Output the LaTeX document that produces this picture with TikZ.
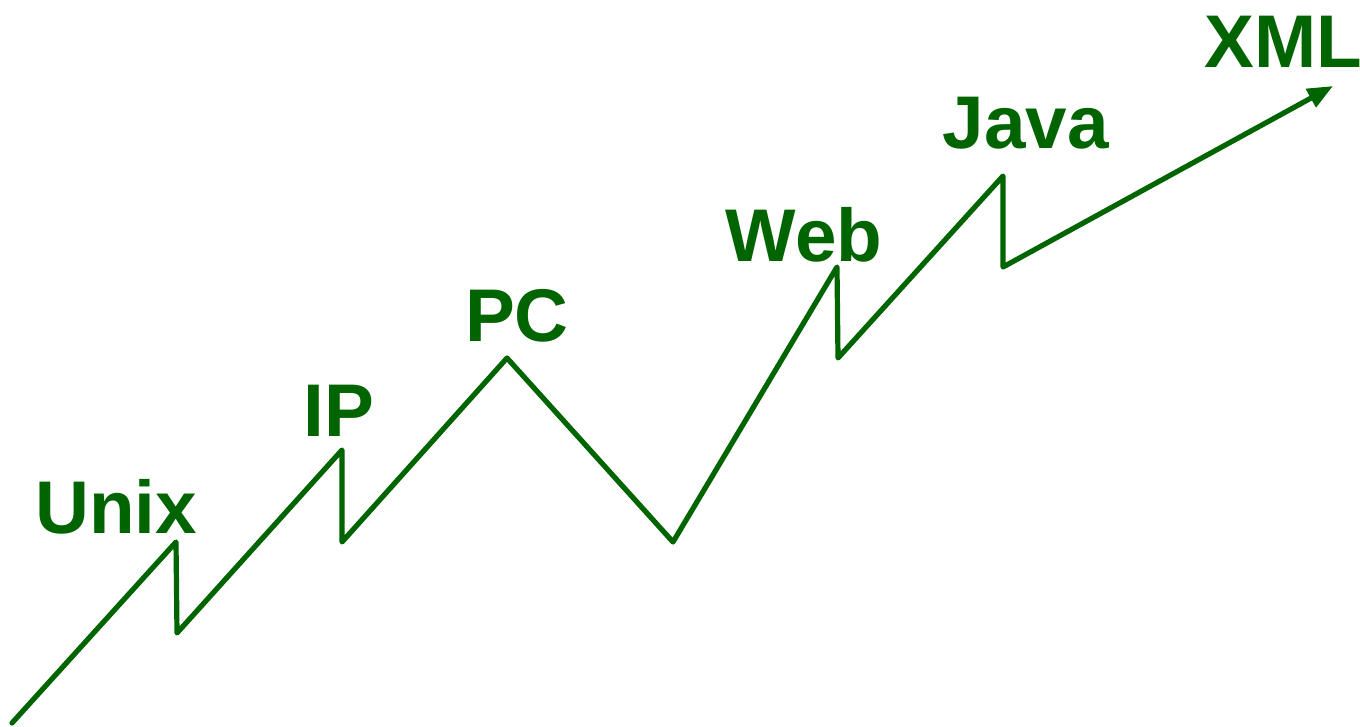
\documentclass[tikz,border=0pt]{standalone}
\usepackage{fontspec}
\setmainfont{Liberation Sans}
\usetikzlibrary{arrows.meta}
\definecolor{dkgreen}{HTML}{006400}
\begin{document}
\begin{tikzpicture}[x=0.75pt,y=-0.75pt,
  lbl/.style={anchor=base,inner sep=0pt,text=dkgreen,font=\fontsize{56}{60}\selectfont\bfseries},
  trend/.style={draw=dkgreen,line width=3.9pt,line join=round,line cap=round}]
\useasboundingbox (0,0) rectangle (1360,726);
\coordinate (s) at (12,723);
\coordinate (u1) at (176,542);
\coordinate (u2) at (177,633);
\coordinate (i1) at (342,450);
\coordinate (i2) at (342,542);
\coordinate (p1) at (507,358);
\coordinate (v) at (673,542);
\coordinate (w1) at (837,267);
\coordinate (w2) at (838,358);
\coordinate (j1) at (1003,176);
\coordinate (j2) at (1003,267);
\coordinate (e) at (1333,86);
\draw[trend,-{Triangle[length=19pt,width=15pt]}] (s) -- (u1) -- (u2) -- (i1) -- (i2) -- (p1) -- (v) -- (w1) -- (w2) -- (j1) -- (j2) -- (e);
\node[lbl] (unix) at (116,533) {Unix};
\node[lbl] (ip) at (339,436) {IP};
\node[lbl] (pc) at (517,341) {PC};
\node[lbl] (web) at (804,261) {Web};
\node[lbl] (java) at (1026,148) {Java};
\node[lbl] (xml) at (1283,67) {XML};
\end{tikzpicture}
\end{document}
